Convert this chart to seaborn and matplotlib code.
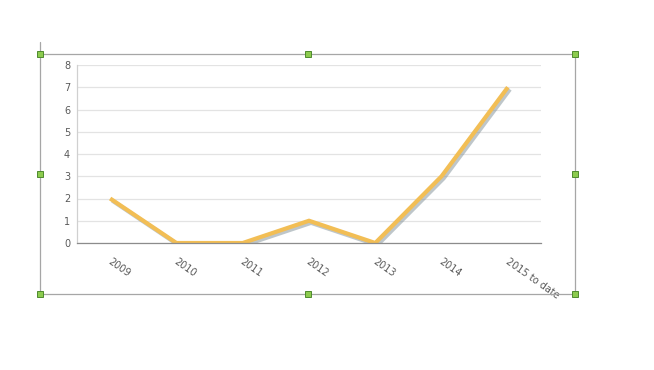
import matplotlib
matplotlib.use("Agg")
import matplotlib.pyplot as plt
import matplotlib.patheffects as pe
from matplotlib.patches import Rectangle
from matplotlib.lines import Line2D
import seaborn as sns
import pandas as pd

categories = ["2009", "2010", "2011", "2012", "2013", "2014", "2015 to date"]
values = [2, 0, 0, 1, 0, 3, 7]
y_ticks = [0, 1, 2, 3, 4, 5, 6, 7, 8]

sns.set_theme(style="white")
plt.rcParams['font.family'] = ['DejaVu Sans']

W, H = 654, 370
fig = plt.figure(figsize=(W / 100, H / 100), dpi=100)
fig.patch.set_facecolor("white")

def fx(px):
    return px / W

def fy(py):
    return 1 - py / H

ax = fig.add_axes([fx(77), fy(243), fx(541) - fx(77), fy(65) - fy(243)])
df = pd.DataFrame({"pos": list(range(len(categories))), "val": values})
sns.lineplot(data=df, x="pos", y="val", ax=ax, color="#F2BE55", linewidth=3.0,
             solid_capstyle="butt", solid_joinstyle="miter",
             path_effects=[pe.SimpleLineShadow(offset=(1.5, -1.5), shadow_color="#7f8f96", alpha=0.5),
                           pe.Normal()])

ax.set_xlim(-0.5, len(categories) - 0.5)
ax.set_ylim(0, 8)
ax.set_yticks(y_ticks)
ax.set_yticklabels([str(t) for t in y_ticks], fontsize=7, color="#595959")
ax.yaxis.grid(True, color="#E3E3E3", linewidth=0.9)
ax.set_axisbelow(True)
ax.set_xlabel("")
ax.set_ylabel("")

# boundary ticks on category axis
ax.set_xticks([i - 0.5 for i in range(len(categories) + 1)])
ax.set_xticklabels([""] * (len(categories) + 1))
ax.tick_params(axis="x", length=3, color="#8C8C8C", width=0.8, direction="in", pad=0)
ax.tick_params(axis="y", length=3, color="#8C8C8C", width=0.8, direction="out", pad=2)
for i, c in enumerate(categories):
    ax.text(i + 0.02, -0.6, c, rotation=-35, rotation_mode="anchor", ha="left", va="top",
            fontsize=7, color="#595959")

for s in ["top", "right"]:
    ax.spines[s].set_visible(False)
ax.spines["left"].set_color("#D0D0D0")
ax.spines["bottom"].set_color("#8C8C8C")
ax.spines["left"].set_linewidth(0.9)
ax.spines["bottom"].set_linewidth(0.9)

# chart frame
frame = Rectangle((fx(40), fy(294)), fx(575) - fx(40), fy(54) - fy(294), transform=fig.transFigure,
                  fill=False, edgecolor="#A6A6A6", linewidth=0.9)
fig.patches.append(frame)
fig.lines.append(Line2D([fx(40), fx(40)], [fy(54), fy(42)], transform=fig.transFigure,
                        color="#A6A6A6", linewidth=0.9))

handles = [(40, 54), (308, 54), (575, 54), (40, 174), (575, 174), (40, 294), (308, 294), (575, 294)]
hs = 6
for (hx, hy) in handles:
    r = Rectangle((fx(hx - hs / 2), fy(hy + hs / 2)), hs / W, hs / H, transform=fig.transFigure,
                  facecolor="#8CCB4E", edgecolor="#4E8A2E", linewidth=0.7, zorder=10)
    fig.patches.append(r)

fig.savefig("out.png", dpi=100, facecolor="white")
